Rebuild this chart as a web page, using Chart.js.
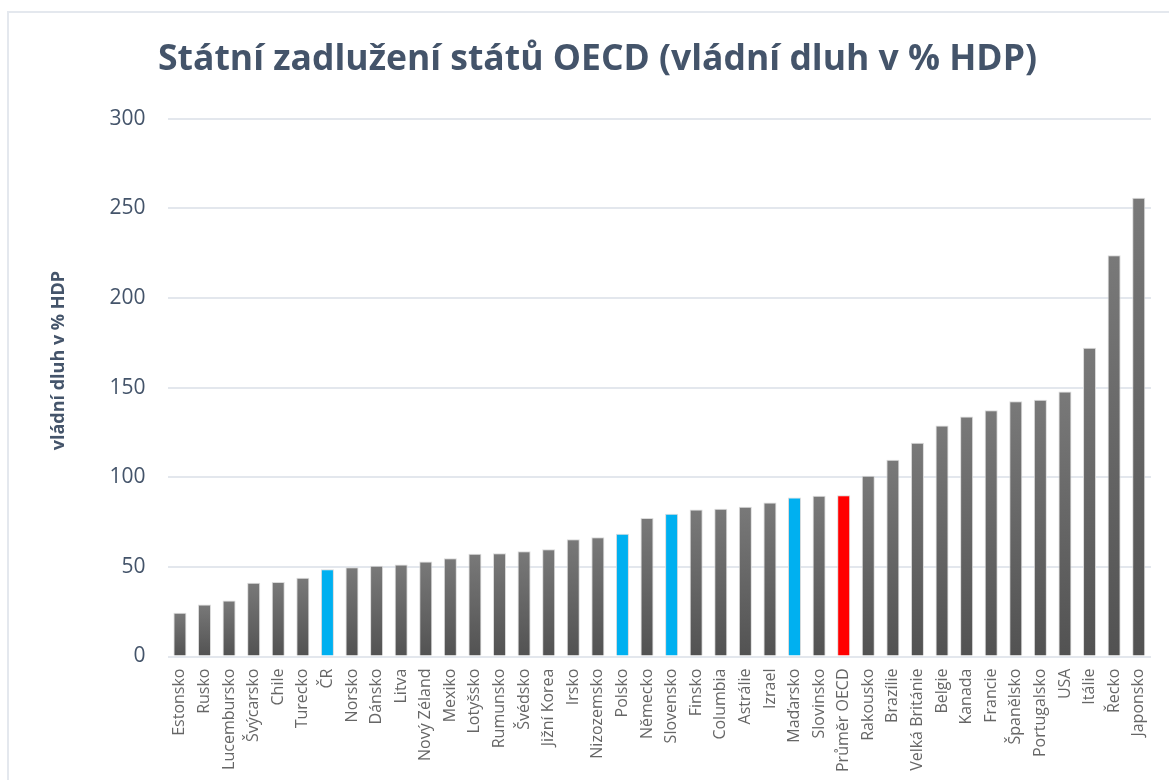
<!DOCTYPE html>
<html lang="cs">
<head>
<meta charset="utf-8">
<script src="https://cdn.jsdelivr.net/npm/chart.js@4.4.1/dist/chart.umd.min.js"></script>
<style>
    html, body { margin: 0; padding: 0; background: #fff; overflow: hidden; }
    #frame {
        position: absolute; left: 7px; top: 11px;
        width: 1180px; height: 800px;
        border: 2px solid #e4e8ee;
    }
    #box { position: absolute; left: 0; top: 0; width: 1172px; height: 771px; }
</style>
</head>
<body>
<div id="frame">
    <div id="box"><canvas id="chart0"></canvas></div>
</div>
<script>
// Státy OECD seřazené podle vládního dluhu (% HDP)
const countries = [
    'Estonsko', 'Rusko', 'Lucembursko', 'Švýcarsko', 'Chile', 'Turecko', 'ČR', 'Norsko',
    'Dánsko', 'Litva', 'Nový Zéland', 'Mexiko', 'Lotyšsko', 'Rumunsko', 'Švédsko',
    'Jižní Korea', 'Irsko', 'Nizozemsko', 'Polsko', 'Německo', 'Slovensko', 'Finsko',
    'Columbia', 'Astrálie', 'Izrael', 'Maďarsko', 'Slovinsko', 'Průměr OECD', 'Rakousko',
    'Brazílie', 'Velká Británie', 'Belgie', 'Kanada', 'Francie', 'Španělsko',
    'Portugalsko', 'USA', 'Itálie', 'Řecko', 'Japonsko'
];
const debt = [
    24.4, 29.0, 31.2, 41.1, 41.5, 43.9, 48.7, 49.8,
    50.6, 51.3, 53.0, 54.8, 57.3, 57.6, 58.7,
    59.8, 65.4, 66.5, 68.4, 77.2, 79.6, 82.0,
    82.4, 83.5, 85.9, 88.7, 89.6, 90.0, 100.8,
    109.7, 119.2, 128.8, 133.9, 137.4, 142.4,
    143.2, 147.8, 172.2, 223.8, 255.8
];
// zvýrazněné sloupce
const blueCountries = ['ČR', 'Polsko', 'Slovensko', 'Maďarsko'];
const redCountries = ['Průměr OECD'];
const yTicks = [0, 50, 100, 150, 200, 250, 300];
const yTitle = 'vládní dluh v % HDP';

const slate = '#44546A';

// barva sloupce: modrá / červená / šedý přechod
function barColor(context) {
    const name = countries[context.dataIndex];
    if (blueCountries.includes(name)) return '#00B0F0';
    if (redCountries.includes(name)) return '#FF0000';
    const chart = context.chart;
    if (!chart.chartArea || !chart.scales.y) return '#666666';
    const y = chart.scales.y;
    const top = y.getPixelForValue(context.raw);
    const bottom = y.getPixelForValue(0);
    const g = chart.ctx.createLinearGradient(0, top, 0, bottom);
    g.addColorStop(0, '#797979');
    g.addColorStop(1, '#525252');
    return g;
}

// popisek osy Y (v originále je trochu nad středem)
const yTitlePlugin = {
    id: 'yTitle',
    afterDraw(chart) {
        const c = chart.ctx;
        const area = chart.chartArea;
        c.save();
        c.translate(chart.scales.y.left + 15, (area.top + area.bottom) / 2 - 27);
        c.rotate(-Math.PI / 2);
        c.font = 'bold 18px "Open Sans"';
        c.fillStyle = slate;
        c.textAlign = 'center';
        c.textBaseline = 'middle';
        c.fillText(yTitle, 0, 0);
        c.restore();
    }
};

const ctx = document.getElementById('chart0').getContext('2d');
const chart0 = new Chart(ctx, {
    type: 'bar',
    data: {
        labels: countries,
        datasets: [{
            label: yTitle,
            data: debt,
            backgroundColor: barColor,
            borderColor: 'rgba(215, 215, 215, 0.9)',
            borderWidth: 1,
            barPercentage: 0.53,
            categoryPercentage: 1
        }]
    },
    options: {
        responsive: true,
        maintainAspectRatio: false,
        animation: false,
        layout: { padding: { left: 35, right: 30, top: 0, bottom: 0 } },
        plugins: {
            legend: { display: false },
            tooltip: { enabled: false },
            title: {
                display: true,
                text: 'Státní zadlužení států OECD (vládní dluh v % HDP)',
                color: slate,
                font: { family: 'Open Sans', size: 35.5, weight: 'bold' },
                padding: { top: 26, bottom: 37 }
            }
        },
        scales: {
            x: {
                grid: { display: false, drawTicks: false },
                border: { display: false },
                ticks: {
                    autoSkip: false,
                    minRotation: 90,
                    maxRotation: 90,
                    padding: 12,
                    color: '#666666',
                    font: { family: 'Open Sans', size: 16 }
                }
            },
            y: {
                min: 0,
                max: 300,
                afterBuildTicks: axis => { axis.ticks = yTicks.map(v => ({ value: v })); },
                afterFit: axis => { axis.width += 43.6; },
                grid: { color: '#e3e7ed', lineWidth: 2, drawTicks: false },
                border: { display: false },
                ticks: {
                    padding: 22,
                    color: slate,
                    font: { family: 'Open Sans', size: 21 }
                }
            }
        }
    },
    plugins: [yTitlePlugin]
});
</script>
</body>
</html>
